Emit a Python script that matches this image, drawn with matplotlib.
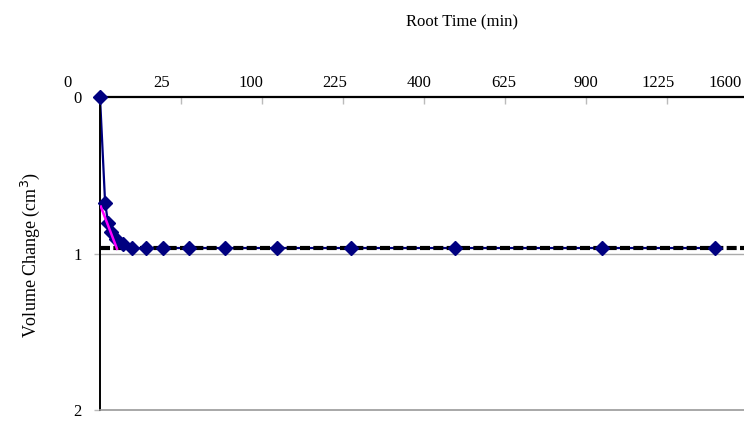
import numpy as np
import matplotlib
matplotlib.use('Agg')
import matplotlib.pyplot as plt

# Data: elapsed time (min) and volume change (cm3)
waktu = [0, 0.1, 0.25, 0.5, 1, 2, 4, 8, 15, 30, 60, 120, 240, 480, 960, 1440]
volume = [0, 0.677, 0.805, 0.863, 0.907, 0.94, 0.965, 0.965, 0.965, 0.965,
          0.965, 0.965, 0.965, 0.965, 0.965, 0.965]

# Tangent line (root time vs volume)
garis_x = [0.05, 1.05]
garis_y = [0.70, 0.97]

# Horizontal dashed line level
level_100 = 0.965

# Top axis labels (minutes) and where they sit in root-time units
label_waktu = ['0', '25', '100', '225', '400', '625', '900', '1225', '1600']
label_pos = [-2.0, 3.8, 9.3, 14.5, 19.7, 24.95, 30.0, 34.45, 38.6]
tick_akar = [5, 10, 15, 20, 25, 30, 35, 40]

plt.rcParams['font.family'] = ['Liberation Serif', 'DejaVu Serif']

fig = plt.figure(figsize=(7.44, 4.21), dpi=100)
ax = fig.add_axes([100 / 744, 1 - 410 / 421, 648 / 744, 313 / 421])

akar = np.sqrt(waktu)
# line under the dashed level, markers above it
ax.plot(akar, volume, color='#000080', lw=1.6, zorder=2)
ax.plot(akar, volume, ls='none', marker='D', markersize=7,
        markerfacecolor='#000080', markeredgecolor='#000080', zorder=4, clip_on=False)
ax.plot(garis_x, garis_y, color='#ff00ff', lw=1.8, zorder=5)
ax.axhline(level_100, color='black', lw=3, dashes=(2.4, 0.8), zorder=3)

ax.set_xlim(0, 40)
ax.set_ylim(2, 0)

ax.axhline(1, color='#aaaaaa', lw=1, zorder=1)

ax.spines['top'].set_color('black')
ax.spines['top'].set_linewidth(1.6)
ax.spines['left'].set_color('black')
ax.spines['left'].set_linewidth(1.4)
ax.spines['bottom'].set_color('#999999')
ax.spines['bottom'].set_linewidth(1.2)
ax.spines['right'].set_visible(False)

ax.xaxis.tick_top()
ax.set_xticks(tick_akar)
ax.set_xticklabels([])
ax.tick_params(axis='x', direction='in', length=5, color='#bbbbbb', width=1)

ax.set_yticks([0, 1, 2])
ax.set_yticklabels(['0', '1', '2'], fontsize=12)
ax.tick_params(axis='y', direction='out', length=4, color='#bbbbbb', width=1, pad=9)

for lab, pos in zip(label_waktu, label_pos):
    ax.text(pos, -0.09, lab, ha='center', va='center', fontsize=12, clip_on=False)

fig.text(462 / 744, 1 - 22 / 421, 'Root Time (min)', ha='center', va='center', fontsize=12)
fig.text(30 / 744, 1 - 255 / 421, 'Volume Change (cm$^3$)', ha='center', va='center',
         rotation=90, fontsize=13)

fig.savefig('out.png', dpi=100)
